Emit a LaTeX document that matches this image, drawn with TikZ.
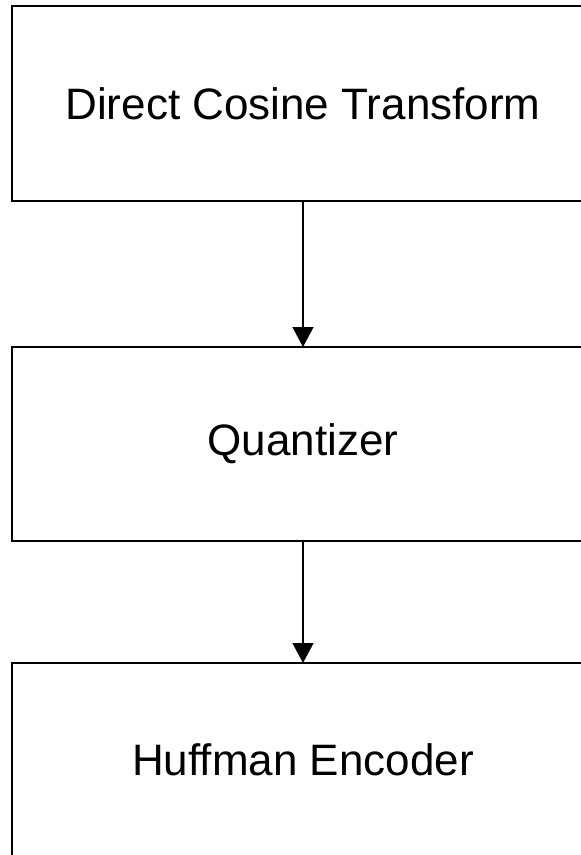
\documentclass[tikz,border=0pt]{standalone}
\usepackage{fontspec}
\setmainfont{Liberation Sans}
\usetikzlibrary{arrows.meta}
\begin{document}
\begin{tikzpicture}[x=1pt,y=-1pt,
  blk/.style={draw=black,line width=2pt,fill=white},
  lbl/.style={font=\fontsize{44}{52}\selectfont},
  conn/.style={line width=1.3pt,-{Triangle[width=21pt,length=20pt]}}]
\useasboundingbox (0,0) rectangle (581,855);
\begin{scope}
\clip (0,0) rectangle (581,855);
\draw[blk] (12,6) rectangle (596,201);
\draw[blk] (12,347) rectangle (596,541);
\draw[blk] (12,663) rectangle (596,870);
\end{scope}
\node[lbl] (dct) at (303,103.5) {Direct Cosine Transform};
\node[lbl] (q) at (303,444) {Quantizer};
\node[lbl] (h) at (303,760) {Huffman Encoder};
\coordinate (a1) at (303,201);
\coordinate (b1) at (303,347);
\coordinate (a2) at (303,541);
\coordinate (b2) at (303,663);
\draw[conn] (a1) -- (b1);
\draw[conn] (a2) -- (b2);
\end{tikzpicture}
\end{document}
